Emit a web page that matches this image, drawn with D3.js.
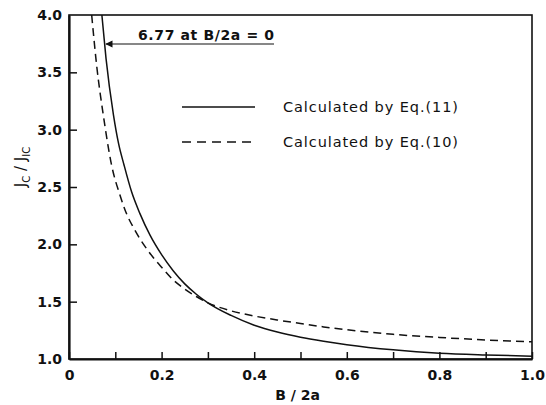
<!DOCTYPE html>
<html lang="en">
<head>
<meta charset="UTF-8">
<title>Jc/Jic vs B/2a</title>
<script src="https://d3js.org/d3.v7.min.js"></script>
<style>
    body { margin: 0; background: #fff; }
    svg { display: block; }
    text { font-family: "DejaVu Sans", Arial, sans-serif; fill: #111; }
    .tick-label { font-size: 14px; font-weight: bold; }
    .legend-text { font-size: 14.5px; }
</style>
</head>
<body>
<svg id="chart" width="546" height="405"></svg>
<script>
// data
const bEq11 = [0.071, 0.08, 0.096, 0.107, 0.119, 0.135, 0.153, 0.175, 0.20, 0.225, 0.25, 0.275, 0.30, 0.35, 0.40, 0.45, 0.50, 0.55, 0.60, 0.70, 0.80, 0.90, 1.00];
const jEq11 = [4.00, 3.62, 3.13, 2.88, 2.69, 2.46, 2.27, 2.08, 1.91, 1.77, 1.655, 1.565, 1.49, 1.38, 1.295, 1.235, 1.19, 1.155, 1.125, 1.08, 1.05, 1.035, 1.025];
const bEq10 = [0.049, 0.06, 0.074, 0.092, 0.11, 0.125, 0.14, 0.153, 0.168, 0.185, 0.20, 0.225, 0.25, 0.275, 0.30, 0.35, 0.40, 0.45, 0.50, 0.55, 0.60, 0.70, 0.80, 0.90, 1.00];
const jEq10 = [4.00, 3.55, 3.13, 2.69, 2.43, 2.26, 2.14, 2.05, 1.96, 1.87, 1.80, 1.69, 1.61, 1.545, 1.49, 1.42, 1.375, 1.34, 1.31, 1.28, 1.255, 1.215, 1.188, 1.166, 1.15];
const xTicks = [0, 0.1, 0.2, 0.3, 0.4, 0.5, 0.6, 0.7, 0.8, 0.9, 1.0];
const xTickLabels = ["0", "", "0.2", "", "0.4", "", "0.6", "", "0.8", "", "1.0"];
const yTicks = [1.0, 1.5, 2.0, 2.5, 3.0, 3.5, 4.0];
const legendLabels = ["Calculated by  Eq.(11)", "Calculated by  Eq.(10)"];

const svg = d3.select("#chart");
const mLeft = 69, mRight = 532, mTop = 15, mBottom = 359;

const x = d3.scaleLinear().domain([0, 1]).range([mLeft, mRight]);
const y = d3.scaleLinear().domain([1, 4]).range([mBottom, mTop]);

const defs = svg.append("defs");
defs.append("clipPath").attr("id", "clip")
    .append("rect").attr("x", mLeft).attr("y", mTop).attr("width", mRight - mLeft).attr("height", mBottom - mTop);

// frame
svg.append("rect")
    .attr("x", mLeft).attr("y", mTop).attr("width", mRight - mLeft).attr("height", mBottom - mTop)
    .attr("fill", "none").attr("stroke", "#111").attr("stroke-width", 1.6);

// x axis (ticks point inward)
const xAxis = d3.axisBottom(x).tickValues(xTicks).tickSizeInner(-7).tickSizeOuter(0)
    .tickFormat((d, i) => xTickLabels[i]).tickPadding(11);
const gx = svg.append("g").attr("transform", `translate(0,${mBottom})`).call(xAxis);
gx.attr("font-family", null).attr("font-size", null);
gx.select(".domain").attr("stroke", "#111").attr("stroke-width", 2.2);
gx.selectAll(".tick line").attr("stroke", "#111").attr("stroke-width", 1.5);
gx.selectAll(".tick text").attr("class", "tick-label").attr("fill", "#111");

// y axis
const yAxis = d3.axisLeft(y).tickValues(yTicks).tickSizeInner(-8).tickSizeOuter(0)
    .tickFormat(d3.format(".1f")).tickPadding(7);
const gy = svg.append("g").attr("transform", `translate(${mLeft},0)`).call(yAxis);
gy.attr("font-family", null).attr("font-size", null);
gy.select(".domain").attr("stroke", "#111").attr("stroke-width", 2.2);
gy.selectAll(".tick line").attr("stroke", "#111").attr("stroke-width", 1.5);
gy.selectAll(".tick text").attr("class", "tick-label").attr("fill", "#111");
gy.selectAll(".tick").filter(d => d === 1 || d === 4).select("line").remove();

// curves
const line = d3.line().x(d => x(d[0])).y(d => y(d[1])).curve(d3.curveMonotoneX);
const plot = svg.append("g").attr("clip-path", "url(#clip)");
plot.append("path")
    .datum(d3.zip(bEq11, jEq11))
    .attr("d", line).attr("fill", "none").attr("stroke", "#111").attr("stroke-width", 1.5);
plot.append("path")
    .datum(d3.zip(bEq10, jEq10))
    .attr("d", line).attr("fill", "none").attr("stroke", "#111").attr("stroke-width", 1.5)
    .attr("stroke-dasharray", "8,5");

// annotation with arrow
const annY = 44;
defs.append("marker")
    .attr("id", "arrow").attr("viewBox", "0 0 10 10").attr("refX", 1).attr("refY", 5)
    .attr("markerWidth", 8).attr("markerHeight", 6).attr("orient", "auto")
    .append("path").attr("d", "M0,5 L10,0 L10,10 Z").attr("fill", "#111");
svg.append("line")
    .attr("x1", 106).attr("x2", 274).attr("y1", annY).attr("y2", annY)
    .attr("stroke", "#111").attr("stroke-width", 1.2).attr("marker-start", "url(#arrow)");
svg.append("text")
    .attr("x", 138).attr("y", annY - 4)
    .attr("font-size", 14).attr("font-weight", "bold")
    .attr("textLength", 136).attr("lengthAdjust", "spacing")
    .text("6.77  at  B/2a = 0");

// legend
const legend = svg.append("g");
legendLabels.forEach((lab, i) => {
    const ly = 107 + i * 35;
    legend.append("line")
        .attr("x1", 182).attr("x2", 255).attr("y1", ly).attr("y2", ly)
        .attr("stroke", "#111").attr("stroke-width", 1.5)
        .attr("stroke-dasharray", i === 1 ? "9,6" : null);
    legend.append("text").attr("class", "legend-text")
        .attr("x", 283).attr("y", ly + 5)
        .attr("textLength", 175).attr("lengthAdjust", "spacing")
        .text(lab);
});

// axis titles
svg.append("text")
    .attr("x", (mLeft + mRight) / 2 - 3).attr("y", 400)
    .attr("text-anchor", "middle").attr("font-size", 14).attr("font-weight", "bold")
    .text("B / 2a");

const yl = svg.append("text")
    .attr("transform", "translate(26,167) rotate(-90)")
    .attr("text-anchor", "middle").attr("font-size", 15);
yl.append("tspan").text("J");
yl.append("tspan").attr("font-size", 10).attr("dy", 4).text("C");
yl.append("tspan").attr("dy", -4).text(" / J");
yl.append("tspan").attr("font-size", 10).attr("dy", 4).text("IC");
</script>
</body>
</html>
